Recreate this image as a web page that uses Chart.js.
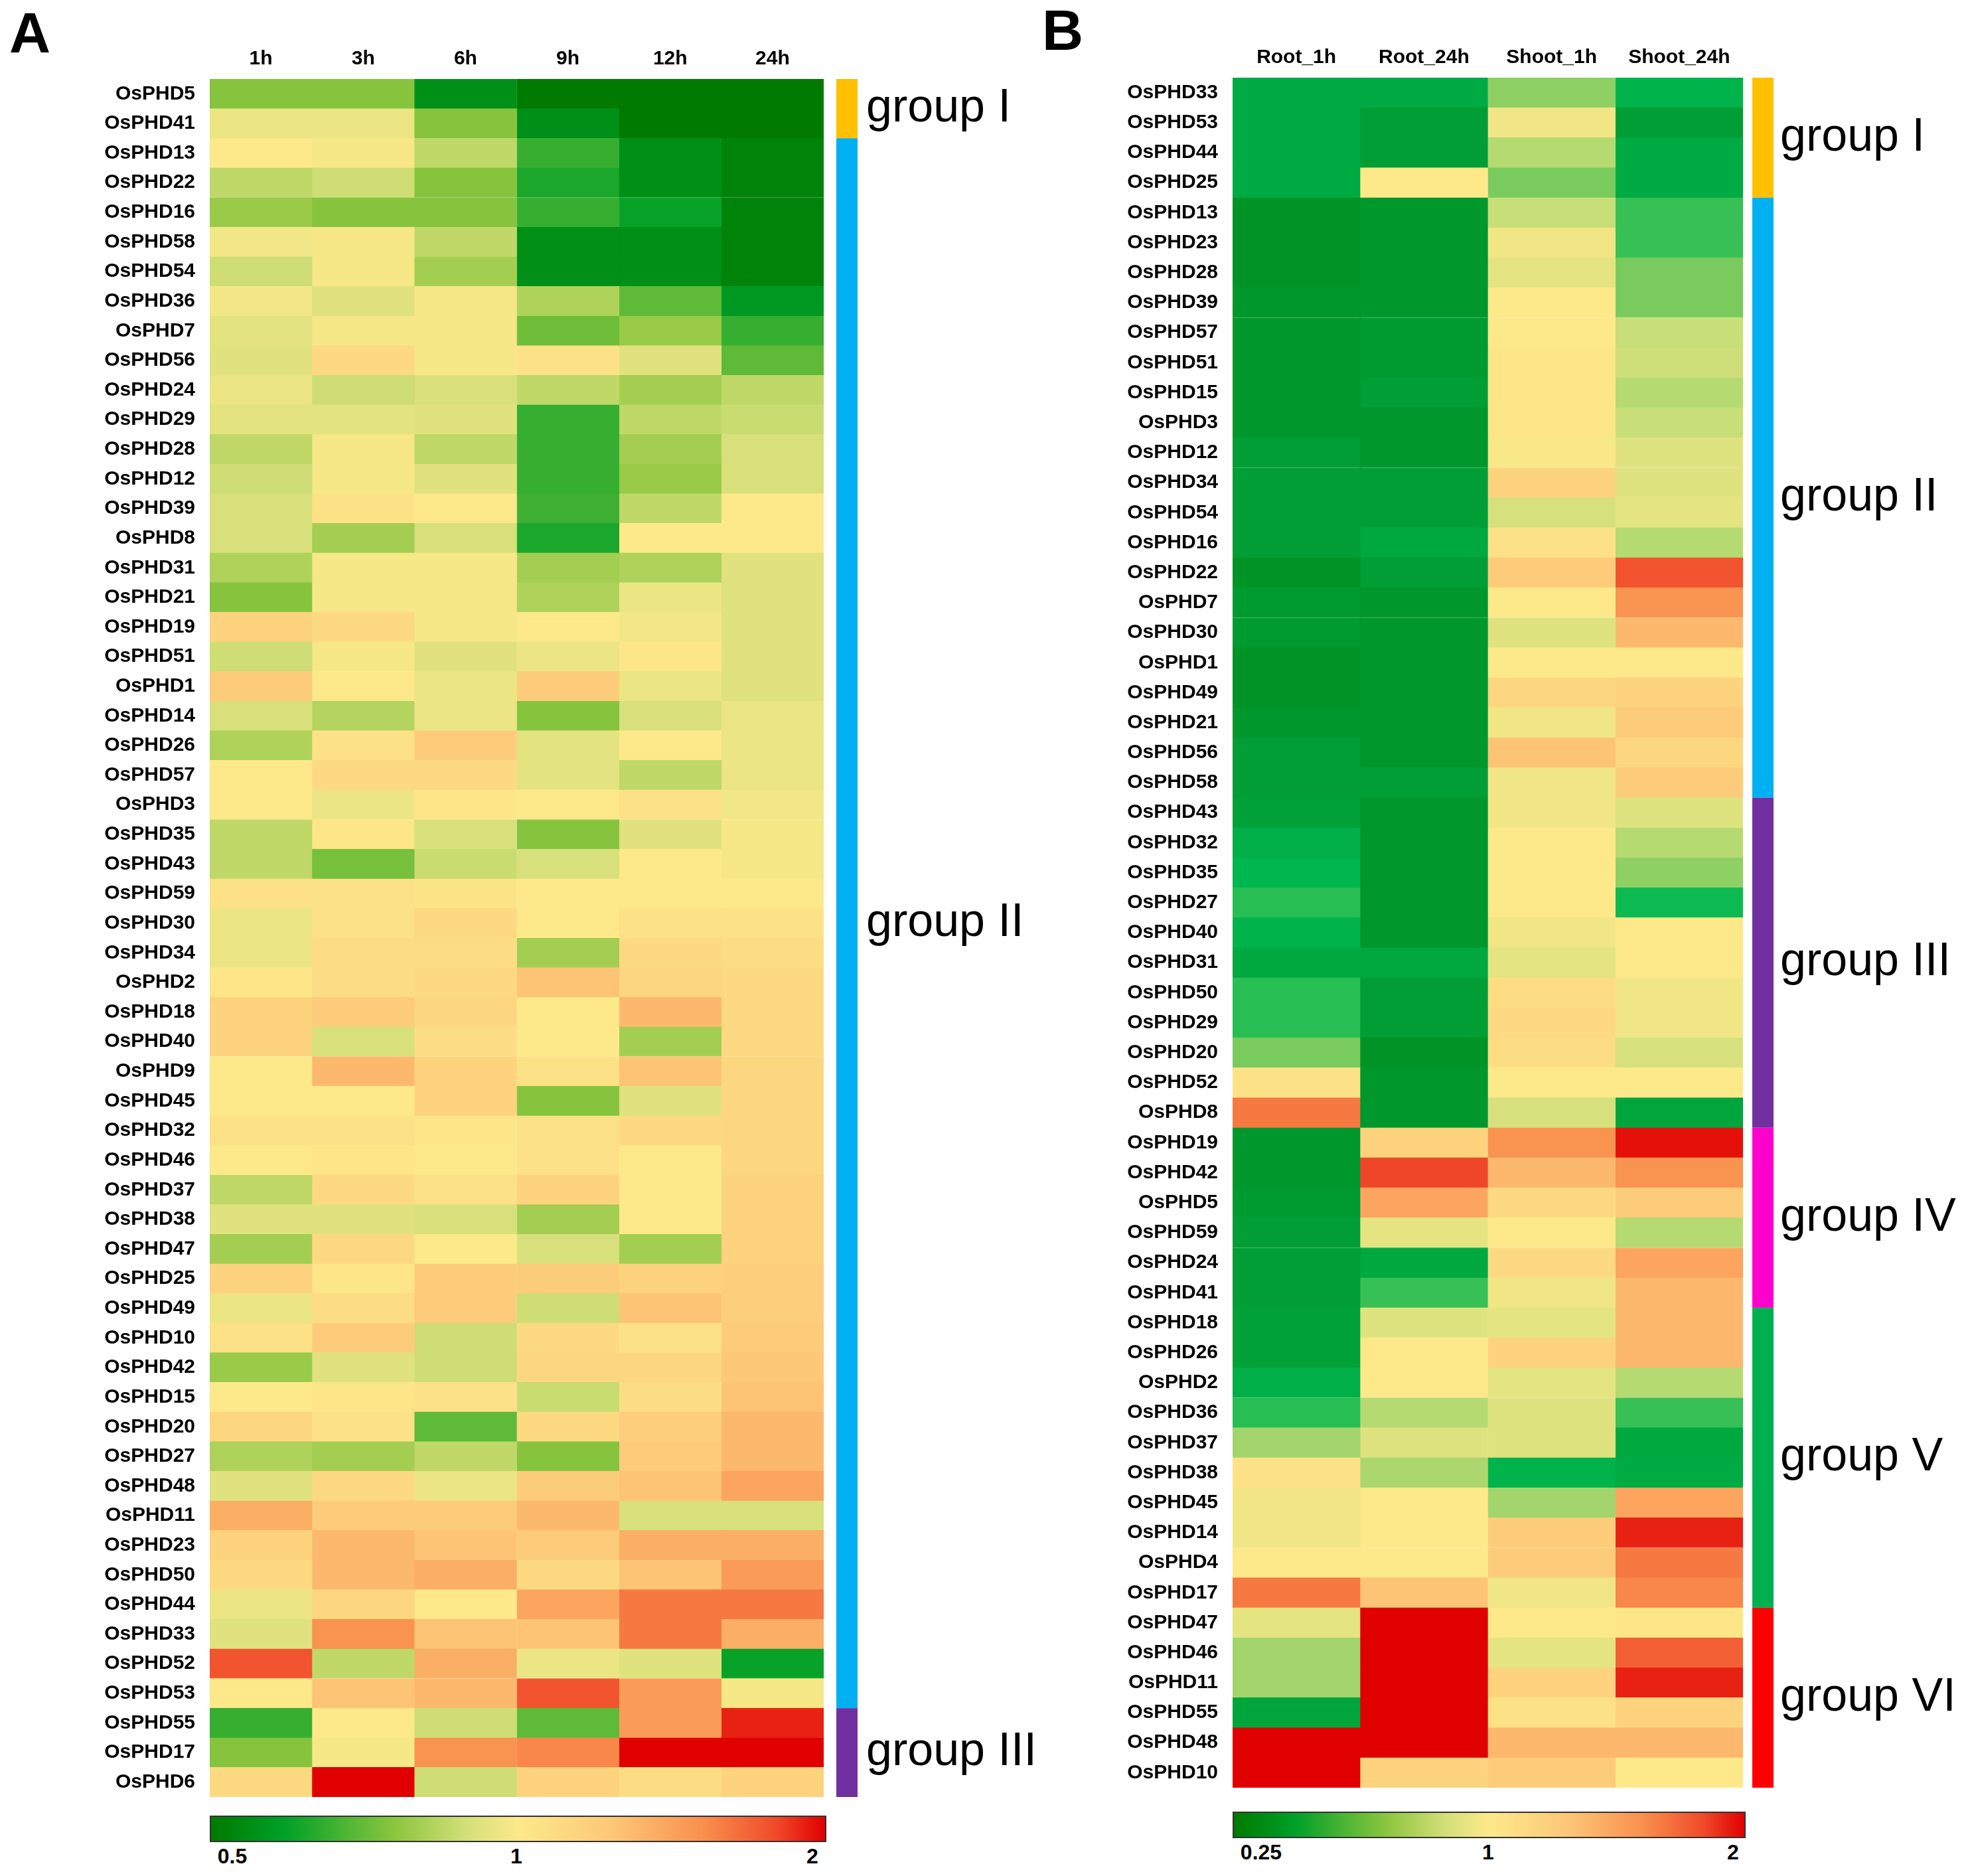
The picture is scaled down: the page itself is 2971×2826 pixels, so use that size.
<!DOCTYPE html>
<html><head><meta charset="utf-8">
<script src="https://cdn.jsdelivr.net/npm/chart.js@4/dist/chart.umd.min.js"></script>
<style>
body{margin:0;background:#fff;width:2971px;height:2826px;position:relative;overflow:hidden;font-family:"Liberation Sans",Arial,sans-serif}
.abs{position:absolute}
.lbl{position:absolute;font-weight:bold;font-size:32px;color:#000;transform:translateX(-50%)}
</style></head><body>
<div class="abs" style="left:14px;top:0px;font-size:86px;font-weight:bold">A</div>
<div class="abs" style="left:1570px;top:-4px;font-size:86px;font-weight:bold">B</div>
<div class="abs" style="left:0;top:0;width:1620px;height:2739px"><canvas id="ca"></canvas></div>
<div class="abs" style="left:1500px;top:0;width:1471px;height:2725px"><canvas id="cb"></canvas></div>
<div class="abs" id="barA" style="left:316px;top:2735px;width:925px;height:36px;border:2px solid #333"></div>
<div class="lbl" style="left:350px;top:2778px">0.5</div>
<div class="lbl" style="left:778px;top:2778px">1</div>
<div class="lbl" style="left:1224px;top:2778px">2</div>
<div class="abs" id="barB" style="left:1857px;top:2729px;width:769px;height:36px;border:2px solid #333"></div>
<div class="lbl" style="left:1900px;top:2772px">0.25</div>
<div class="lbl" style="left:2242px;top:2772px">1</div>
<div class="lbl" style="left:2611px;top:2772px">2</div>
<script>
const colsA=["1h","3h","6h","9h","12h","24h"];
const genesA=["OsPHD5","OsPHD41","OsPHD13","OsPHD22","OsPHD16","OsPHD58","OsPHD54","OsPHD36","OsPHD7","OsPHD56","OsPHD24","OsPHD29","OsPHD28","OsPHD12","OsPHD39","OsPHD8","OsPHD31","OsPHD21","OsPHD19","OsPHD51","OsPHD1","OsPHD14","OsPHD26","OsPHD57","OsPHD3","OsPHD35","OsPHD43","OsPHD59","OsPHD30","OsPHD34","OsPHD2","OsPHD18","OsPHD40","OsPHD9","OsPHD45","OsPHD32","OsPHD46","OsPHD37","OsPHD38","OsPHD47","OsPHD25","OsPHD49","OsPHD10","OsPHD42","OsPHD15","OsPHD20","OsPHD27","OsPHD48","OsPHD11","OsPHD23","OsPHD50","OsPHD44","OsPHD33","OsPHD52","OsPHD53","OsPHD55","OsPHD17","OsPHD6"];
const valuesA=[
[0.75,0.75,0.55,0.5,0.5,0.5],[0.95,0.95,0.75,0.55,0.5,0.5],[1.0,0.98,0.85,0.65,0.55,0.52],[0.85,0.88,0.75,0.62,0.55,0.52],[0.78,0.75,0.75,0.65,0.6,0.52],
[0.97,0.98,0.85,0.55,0.55,0.52],[0.88,0.98,0.8,0.55,0.55,0.52],[0.97,0.92,0.98,0.82,0.7,0.57],[0.93,0.98,0.98,0.72,0.78,0.65],[0.92,1.1,0.98,1.05,0.92,0.7],
[0.95,0.88,0.9,0.85,0.8,0.85],[0.93,0.93,0.92,0.65,0.85,0.87],[0.85,0.98,0.85,0.65,0.8,0.9],[0.88,0.98,0.92,0.65,0.78,0.9],[0.9,1.05,1.0,0.66,0.85,1.0],
[0.9,0.8,0.9,0.62,1.0,1.0],[0.82,0.98,0.98,0.8,0.82,0.92],[0.75,0.98,0.98,0.82,0.95,0.92],[1.15,1.1,0.98,1.0,0.97,0.92],[0.88,0.98,0.92,0.95,1.02,0.92],
[1.2,1.0,0.95,1.2,0.95,0.92],[0.9,0.83,0.95,0.75,0.9,0.95],[0.82,1.05,1.2,0.93,1.0,0.95],[1.0,1.1,1.1,0.93,0.85,0.95],[1.0,0.95,1.02,1.0,1.05,0.97],
[0.85,1.02,0.9,0.75,0.92,0.98],[0.85,0.73,0.87,0.9,1.0,0.98],[1.05,1.05,1.03,1.0,1.0,1.0],[0.95,1.05,1.1,1.0,1.05,1.05],[0.95,1.08,1.08,0.8,1.1,1.08],
[1.02,1.08,1.1,1.25,1.12,1.1],[1.15,1.2,1.12,1.0,1.3,1.1],[1.15,0.9,1.08,1.0,0.8,1.1],[1.0,1.3,1.15,1.05,1.25,1.12],[1.0,1.0,1.15,0.75,0.92,1.12],
[1.05,1.05,1.02,1.05,1.1,1.12],[1.0,1.02,1.0,1.05,1.0,1.12],[0.85,1.1,1.05,1.15,1.0,1.15],[0.92,0.92,0.9,0.8,1.0,1.15],[0.8,1.1,1.0,0.9,0.8,1.15],
[1.15,1.02,1.2,1.2,1.15,1.18],[0.95,1.08,1.2,0.88,1.25,1.18],[1.05,1.2,0.88,1.1,1.05,1.2],[0.78,0.92,0.88,1.12,1.12,1.22],[1.0,1.02,1.05,0.87,1.08,1.25],
[1.12,1.05,0.7,1.1,1.18,1.3],[0.82,0.8,0.85,0.75,1.2,1.3],[0.92,1.1,0.95,1.2,1.25,1.4],[1.35,1.2,1.2,1.3,0.9,0.9],[1.15,1.3,1.25,1.2,1.35,1.35],
[1.1,1.3,1.35,1.1,1.25,1.45],[0.95,1.12,1.0,1.4,1.6,1.6],[0.92,1.5,1.25,1.25,1.6,1.35],[1.75,0.85,1.35,0.95,0.92,0.6],[1.0,1.25,1.3,1.75,1.45,0.98],
[0.65,1.0,0.88,0.7,1.45,1.9],[0.75,0.98,1.5,1.55,2.0,2.0],[1.1,2.0,0.88,1.15,1.08,1.15]];
const colsB=["Root_1h","Root_24h","Shoot_1h","Shoot_24h"];
const genesB=["OsPHD33","OsPHD53","OsPHD44","OsPHD25","OsPHD13","OsPHD23","OsPHD28","OsPHD39","OsPHD57","OsPHD51","OsPHD15","OsPHD3","OsPHD12","OsPHD34","OsPHD54","OsPHD16","OsPHD22","OsPHD7","OsPHD30","OsPHD1","OsPHD49","OsPHD21","OsPHD56","OsPHD58","OsPHD43","OsPHD32","OsPHD35","OsPHD27","OsPHD40","OsPHD31","OsPHD50","OsPHD29","OsPHD20","OsPHD52","OsPHD8","OsPHD19","OsPHD42","OsPHD5","OsPHD59","OsPHD24","OsPHD41","OsPHD18","OsPHD26","OsPHD2","OsPHD36","OsPHD37","OsPHD38","OsPHD45","OsPHD14","OsPHD4","OsPHD17","OsPHD47","OsPHD46","OsPHD11","OsPHD55","OsPHD48","OsPHD10"];
const valuesB=[
[0.35,0.35,0.65,0.4],[0.35,0.3,0.95,0.3],[0.35,0.3,0.75,0.35],[0.35,1.0,0.6,0.35],[0.27,0.28,0.8,0.5],[0.27,0.28,0.95,0.5],[0.27,0.28,0.9,0.6],[0.28,0.28,1.0,0.6],
[0.28,0.29,1.0,0.8],[0.28,0.29,1.02,0.82],[0.28,0.3,1.02,0.75],[0.28,0.28,1.02,0.8],[0.3,0.28,0.98,0.88],[0.3,0.3,1.15,0.88],[0.3,0.3,0.85,0.9],[0.3,0.33,1.05,0.75],
[0.27,0.3,1.2,1.75],[0.29,0.28,1.0,1.5],[0.29,0.28,0.88,1.3],[0.27,0.28,1.0,1.0],[0.27,0.28,1.12,1.15],[0.28,0.28,0.95,1.2],[0.3,0.28,1.25,1.12],[0.3,0.3,0.95,1.2],
[0.31,0.28,0.95,0.88],[0.37,0.28,1.0,0.75],[0.42,0.28,1.0,0.65],[0.48,0.28,1.0,0.45],[0.4,0.28,0.95,1.0],[0.33,0.33,0.9,1.0],[0.48,0.3,1.08,0.95],[0.48,0.3,1.1,0.95],
[0.6,0.27,1.08,0.85],[1.05,0.28,1.0,1.0],[1.6,0.28,0.85,0.32],[0.28,1.15,1.5,1.95],[0.28,1.8,1.3,1.5],[0.29,1.4,1.1,1.2],[0.3,0.9,1.0,0.75],[0.3,0.33,1.1,1.4],
[0.3,0.5,0.95,1.3],[0.31,0.88,0.9,1.3],[0.31,1.0,1.15,1.3],[0.37,1.0,0.9,0.75],[0.48,0.75,0.88,0.5],[0.7,0.88,0.88,0.33],[1.05,0.72,0.4,0.35],[0.95,1.0,0.7,1.4],
[0.95,1.0,1.2,1.9],[1.0,1.0,1.2,1.6],[1.6,1.25,0.95,1.55],[0.9,2.0,1.0,1.02],[0.7,2.0,0.9,1.7],[0.7,2.0,1.15,1.9],[0.32,2.0,1.05,1.15],[2.0,2.0,1.3,1.3],[2.0,1.15,1.2,1.0]];
const groupsA=[["group I",0,1,"#ffc000"],["group II",2,54,"#00b0f0"],["group III",55,57,"#7030a0"]];
const groupsB=[["group I",0,3,"#ffc000"],["group II",4,23,"#00b0f0"],["group III",24,34,"#7030a0"],["group IV",35,40,"#ff00cc"],["group V",41,50,"#00b050"],["group VI",51,56,"#ff0000"]];

const stops=[[0,[0,122,0]],[0.12,[0,160,40]],[0.3,[140,198,63]],[0.42,[214,224,122]],[0.5,[253,233,138]],[0.65,[253,200,120]],[0.8,[249,144,78]],[0.92,[240,74,42]],[1,[224,0,0]]];
const stopsB=[[0,[0,140,30]],[0.1,[0,168,64]],[0.2,[0,184,80]],[0.3,[110,200,90]],[0.42,[200,222,120]],[0.5,[253,233,138]],[0.65,[253,200,120]],[0.8,[249,144,78]],[0.92,[240,74,42]],[1,[224,0,0]]];
function colorF(f,st){f=Math.max(0,Math.min(1,f));for(let i=1;i<st.length;i++){if(f<=st[i][0]){const[a,ca]=st[i-1],[b,cb]=st[i];const t=(f-a)/(b-a);return`rgb(${ca.map((c,k)=>Math.round(c+(cb[k]-c)*t)).join(",")})`;}}return"rgb(224,0,0)";}
function colorV(v,min,st){const f=v<=1?0.5*(Math.log(v)-Math.log(min))/(-Math.log(min)):0.5+0.5*Math.log(v)/Math.log(2);return colorF(f,st);}
function grad(){return "linear-gradient(to right,"+stops.map(s=>`rgb(${s[1].join(",")}) ${s[0]*100}%`).join(",")+")";}
document.getElementById("barA").style.background=grad();
document.getElementById("barB").style.background=grad();

function make(id,cols,genes,vals,min,st,groups,yw,xh,padR,padB,barX,labX){
  const datasets=cols.map((c,ci)=>({label:c,data:genes.map(()=>[ci,ci+1]),backgroundColor:vals.map(r=>colorV(r[ci],min,st)),borderColor:vals.map(r=>colorV(r[ci],min,st)),borderWidth:1,borderSkipped:false,barPercentage:1,categoryPercentage:1,grouped:false}));
  const groupPlugin={id:"grp",afterDraw(ch){const c=ch.ctx,y=ch.scales.y,h=y.getPixelForValue(1)-y.getPixelForValue(0);
    groups.forEach(g=>{const t=y.getPixelForValue(g[1])-h/2,b=y.getPixelForValue(g[2])+h/2;c.fillStyle=g[3];c.fillRect(barX,t,32,b-t);
      c.fillStyle="#000";c.font='70px "Liberation Sans",Arial,sans-serif';c.textBaseline="middle";c.textAlign="left";c.fillText(g[0],labX,(t+b)/2);});}};
  new Chart(document.getElementById(id),{type:"bar",data:{labels:genes,datasets},plugins:[groupPlugin],
    options:{indexAxis:"y",responsive:true,maintainAspectRatio:false,animation:false,
      layout:{padding:{left:0,right:padR,top:0,bottom:padB}},
      plugins:{legend:{display:false},tooltip:{enabled:false}},
      scales:{x:{type:"linear",position:"top",min:0,max:cols.length,grid:{display:false},border:{display:false},
          afterBuildTicks(s){s.ticks=cols.map((c,i)=>({value:i+0.5}));},afterFit(s){s.height=xh;},
          ticks:{autoSkip:false,maxRotation:0,padding:4,color:"#000",font:{size:30,weight:"bold",family:"Liberation Sans"},callback:(v)=>cols[Math.floor(v)]}},
        y:{grid:{display:false},border:{display:false},afterFit(s){s.width=yw;},
          ticks:{autoSkip:false,padding:14,color:"#000",font:{size:30,weight:"bold",family:"Liberation Sans"}}}}}});
}
make("ca",colsA,genesA,valuesA,0.5,stops,groupsA,316,119,379,14,1260,1305);
make("cb",colsB,genesB,valuesB,0.25,stopsB,groupsB,357,117,345,15,1140,1182);
</script></body></html>
